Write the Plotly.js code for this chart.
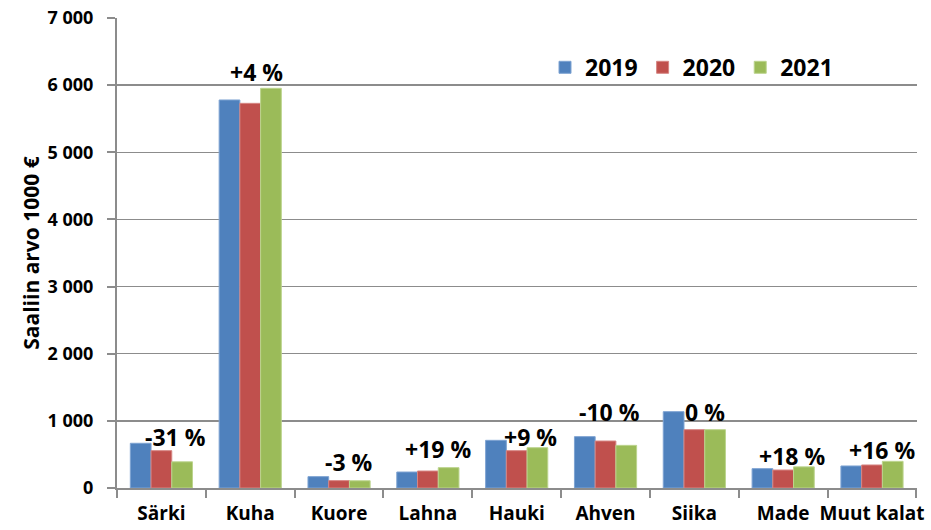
<!DOCTYPE html>
<html>
<head>
<meta charset="utf-8">
<script src="https://cdn.plot.ly/plotly-3.0.1.min.js"></script>
<style>html,body{margin:0;padding:0;background:#fff}#chart{width:931px;height:530px}</style>
</head>
<body>
<div id="chart"></div>
<script>
const categories = ["Särki","Kuha","Kuore","Lahna","Hauki","Ahven","Siika","Made","Muut kalat"];
const values2019 = [666, 5779, 169, 238, 710, 765, 1137, 288, 328];
const values2020 = [556, 5729, 110, 253, 556, 700, 869, 268, 343];
const values2021 = [390, 5953, 108, 303, 600, 635, 869, 315, 397];
const changeLabels = ["-31 %","+4 %","-3 %","+19 %","+9 %","-10 %","0 %","+18 %","+16 %"];
const seriesNames = ["2019","2020","2021"];

// label placement (pixel shifts relative to the 2021 bar top)
const labelDx = [14, 6, 10, 10, 14, 4, 11, 9, 10];
const labelDy = [25, 16, 19, 19, 11, 33, 18, 11, 11];

const FONT = "'Open Sans', 'Noto Sans', 'DejaVu Sans', sans-serif";
const colors = ["#4F81BD","#C0504D","#9BBB59"];
const lineColors = ["#7EA3D2","#D68684","#BCD48E"];
const seriesVals = [values2019, values2020, values2021];

const traces = seriesVals.map((v, i) => ({
  type: "bar",
  name: seriesNames[i],
  x: categories,
  y: v,
  marker: {color: colors[i], line: {color: lineColors[i], width: 1}},
  hoverinfo: "skip"
}));

const annotations = categories.map((c, i) => ({
  x: c, y: values2021[i], xref: "x", yref: "y",
  text: changeLabels[i], showarrow: false,
  xanchor: "center", yanchor: "middle",
  xshift: labelDx[i], yshift: labelDy[i],
  font: {family: FONT, size: 23, color: "#000", weight: "bold"}
}));

const layout = {
  width: 931, height: 530,
  margin: {l: 117, r: 14, t: 18, b: 42, pad: 0},
  paper_bgcolor: "#fff", plot_bgcolor: "#fff",
  separators: ", ",
  barmode: "group", bargap: 0.3, bargroupgap: 0,
  showlegend: true,
  legend: {
    orientation: "h", x: 0.535, y: 0.895, xanchor: "left", yanchor: "middle",
    font: {family: FONT, size: 23, color: "#000", weight: "bold"},
    itemwidth: 30, tracegroupgap: 0, bgcolor: "rgba(0,0,0,0)"
  },
  xaxis: {
    type: "category",
    showline: true, linecolor: "#8C8C8C", linewidth: 2,
    ticks: "outside", tickson: "boundaries", ticklen: 8, tickcolor: "#8C8C8C", tickwidth: 2,
    showgrid: false, zeroline: false,
    tickangle: 0,
    ticklabelstandoff: 7,
    tickfont: {family: FONT, size: 19, color: "#000", weight: "bold"}
  },
  yaxis: {
    range: [0, 7000], dtick: 1000, tick0: 0, tickformat: ",d",
    showline: true, linecolor: "#8C8C8C", linewidth: 2,
    ticks: "outside", ticklen: 8, tickcolor: "#8C8C8C", tickwidth: 2,
    showgrid: true, gridcolor: "#8C8C8C", gridwidth: 1.3,
    zeroline: false,
    ticklabelstandoff: 10,
    tickfont: {family: FONT, size: 18, color: "#000", weight: "bold"},
    title: {text: "Saaliin arvo 1000 €", standoff: 2,
            font: {family: FONT, size: 21, color: "#000", weight: "bold"}}
  },
  annotations: annotations
};

Plotly.newPlot("chart", traces, layout, {displayModeBar: false, staticPlot: true});
</script>
</body>
</html>
